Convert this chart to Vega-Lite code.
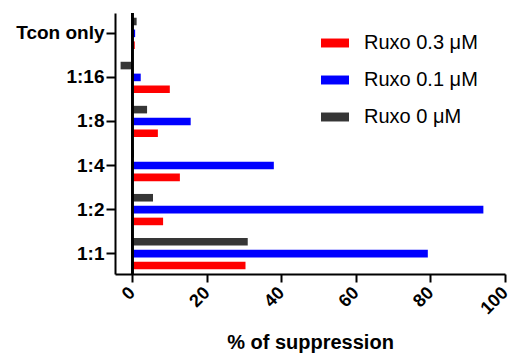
{
  "$schema": "https://vega.github.io/schema/vega-lite/v6.json",
  "width": 390,
  "height": 261,
  "autosize": {"type": "none"},
  "padding": {"left": 115, "top": 13, "right": 6, "bottom": 86},
  "background": "white",
  "data": {
    "values": [
      {"ratio": "Tcon only", "treatment": "Ruxo 0 μM", "suppression": 1.2},
      {"ratio": "Tcon only", "treatment": "Ruxo 0.1 μM", "suppression": 0.8},
      {"ratio": "Tcon only", "treatment": "Ruxo 0.3 μM", "suppression": 0.7},
      {"ratio": "1:16", "treatment": "Ruxo 0 μM", "suppression": -3.1},
      {"ratio": "1:16", "treatment": "Ruxo 0.1 μM", "suppression": 2.3},
      {"ratio": "1:16", "treatment": "Ruxo 0.3 μM", "suppression": 10.1},
      {"ratio": "1:8", "treatment": "Ruxo 0 μM", "suppression": 4.0},
      {"ratio": "1:8", "treatment": "Ruxo 0.1 μM", "suppression": 15.7},
      {"ratio": "1:8", "treatment": "Ruxo 0.3 μM", "suppression": 6.9},
      {"ratio": "1:4", "treatment": "Ruxo 0 μM", "suppression": 0.5},
      {"ratio": "1:4", "treatment": "Ruxo 0.1 μM", "suppression": 38.0},
      {"ratio": "1:4", "treatment": "Ruxo 0.3 μM", "suppression": 12.8},
      {"ratio": "1:2", "treatment": "Ruxo 0 μM", "suppression": 5.6},
      {"ratio": "1:2", "treatment": "Ruxo 0.1 μM", "suppression": 94.2},
      {"ratio": "1:2", "treatment": "Ruxo 0.3 μM", "suppression": 8.3},
      {"ratio": "1:1", "treatment": "Ruxo 0 μM", "suppression": 31.0},
      {"ratio": "1:1", "treatment": "Ruxo 0.1 μM", "suppression": 79.3},
      {"ratio": "1:1", "treatment": "Ruxo 0.3 μM", "suppression": 30.4}
    ]
  },
  "encoding": {
    "x": {
      "type": "quantitative",
      "scale": {"domain": [-4.6, 100], "nice": false, "zero": false},
      "axis": {
        "values": [0, 20, 40, 60, 80, 100],
        "title": "% of suppression",
        "labelAngle": -45,
        "labelAlign": "right",
        "labelBaseline": "middle",
        "labelFontSize": 18,
        "labelFontWeight": "bold",
        "labelPadding": 8,
        "labelFlush": false,
        "labelOverlap": false,
        "tickSize": 8,
        "titleFontSize": 20,
        "titleFontWeight": "bold",
        "titlePadding": 15
      }
    }
  },
  "layer": [
    {
      "mark": {"type": "bar", "orient": "horizontal"},
      "encoding": {
        "x": {"field": "suppression"},
        "y": {
          "field": "ratio",
          "type": "nominal",
          "sort": ["Tcon only", "1:16", "1:8", "1:4", "1:2", "1:1"],
          "scale": {"paddingInner": 0.29, "paddingOuter": 0.107},
          "axis": {
            "title": null,
            "labelFontSize": 19,
            "labelFontWeight": "bold",
            "labelPadding": 2,
            "tickSize": 9
          }
        },
        "yOffset": {
          "field": "treatment",
          "type": "nominal",
          "sort": ["Ruxo 0 μM", "Ruxo 0.1 μM", "Ruxo 0.3 μM"],
          "scale": {"paddingInner": 0.36, "paddingOuter": 0}
        },
        "color": {
          "field": "treatment",
          "type": "nominal",
          "scale": {
            "domain": ["Ruxo 0.3 μM", "Ruxo 0.1 μM", "Ruxo 0 μM"],
            "range": ["#ff0000", "#0000ff", "#363636"]
          },
          "legend": {
            "title": null,
            "orient": "none",
            "legendX": 206,
            "legendY": 16,
            "padding": 0,
            "symbolType": "M-1,-0.32H1V0.32H-1Z",
            "symbolSize": 784,
            "symbolStrokeWidth": 0,
            "symbolOpacity": 1,
            "labelFontSize": 20,
            "labelOffset": 15,
            "rowPadding": 13
          }
        }
      }
    },
    {
      "mark": {"type": "rule", "color": "black", "strokeWidth": 2},
      "encoding": {"x": {"datum": 0}}
    }
  ],
  "config": {
    "font": "Liberation Sans",
    "view": {"stroke": null},
    "axis": {
      "grid": false,
      "domainColor": "black",
      "domainWidth": 2,
      "tickColor": "black",
      "tickWidth": 2,
      "labelColor": "black",
      "titleColor": "black"
    },
    "legend": {"labelColor": "black"}
  }
}
